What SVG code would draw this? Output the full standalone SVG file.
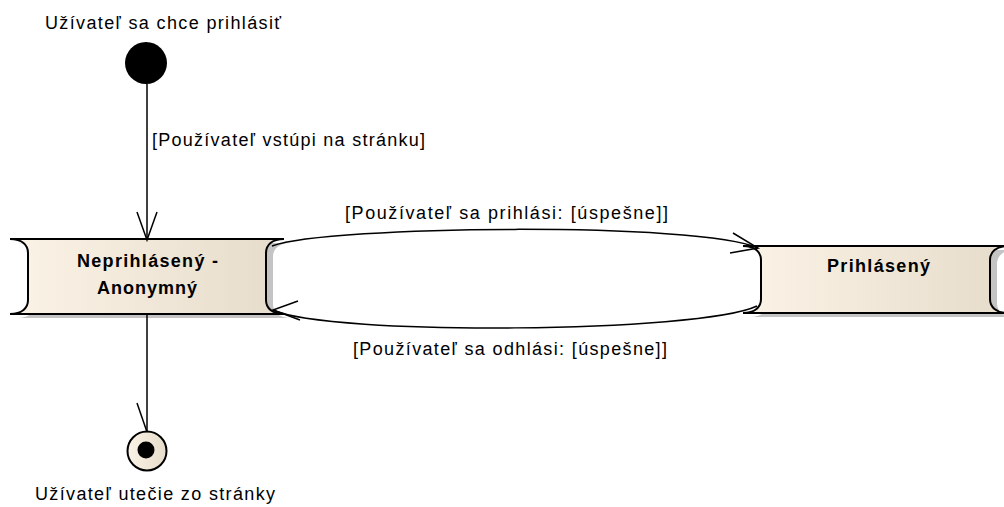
<svg xmlns="http://www.w3.org/2000/svg" width="1004" height="507" viewBox="0 0 1004 507">
  <defs>
    <linearGradient id="stateFill" x1="0" y1="0" x2="1" y2="0">
      <stop offset="0" stop-color="#fbf3e6"/>
      <stop offset="1" stop-color="#e6dccb"/>
    </linearGradient>
    <style>
      .shadow { fill: #c4c4c4; }
      .state { fill: url(#stateFill); stroke: #000; stroke-width: 2; }
      .name { font-family: "Liberation Sans", Arial, sans-serif; font-size: 18px; font-weight: bold; fill: #000; }
      .lbl { font-family: "Liberation Sans", Arial, sans-serif; font-size: 18px; fill: #000; }
      .edge { fill: none; stroke: #000; stroke-width: 1.5; }
    </style>
  </defs>
  <rect width="1004" height="507" fill="#fff"/>

  <!-- initial pseudo-state -->
  <g id="initial">
    <circle cx="146" cy="63" r="21" fill="#000"/>
    <text class="lbl" x="45" y="29" textLength="236" lengthAdjust="spacing">Užívateľ sa chce prihlásiť</text>
  </g>

  <!-- state: not logged in -->
  <g id="anonymous">
    <path class="shadow" transform="translate(7,4)" d="M10,239 H284 C272,239 266,245 266,253 V300 C266,308 272,314 284,314 H10 C22,314 28,308 28,300 V253 C28,245 22,239 10,239 Z"/>
    <path class="state" d="M10,239 H284 C272,239 266,245 266,253 V300 C266,308 272,314 284,314 H10 C22,314 28,308 28,300 V253 C28,245 22,239 10,239 Z"/>
    <text class="name" x="77" y="267" textLength="141" lengthAdjust="spacing">Neprihlásený -</text>
    <text class="name" x="97" y="294" textLength="100" lengthAdjust="spacing">Anonymný</text>
  </g>

  <!-- state: logged in -->
  <g id="loggedIn">
    <path class="shadow" transform="translate(7,4)" d="M743,246 H1008 C996,246 990,252 990,260 V299 C990,307 996,313 1008,313 H743 C755,313 761,307 761,299 V260 C761,252 755,246 743,246 Z"/>
    <path class="state" d="M743,246 H1008 C996,246 990,252 990,260 V299 C990,307 996,313 1008,313 H743 C755,313 761,307 761,299 V260 C761,252 755,246 743,246 Z"/>
    <text class="name" x="827" y="272" textLength="103" lengthAdjust="spacing">Prihlásený</text>
  </g>

  <!-- final pseudo-state -->
  <g id="final">
    <circle cx="147" cy="451" r="19.5" fill="url(#stateFill)" stroke="#000" stroke-width="2"/>
    <circle cx="146" cy="450" r="8.5" fill="#000"/>
    <text class="lbl" x="35" y="500" textLength="240" lengthAdjust="spacing">Užívateľ utečie zo stránky</text>
  </g>

  <!-- transitions -->
  <g id="connectors">
    <path class="edge" d="M147,84 V240"/>
    <path class="edge" d="M137,212 L147,240 L157,212"/>
    <text class="lbl" x="152" y="146" textLength="273" lengthAdjust="spacing">[Používateľ vstúpi na stránku]</text>

    <path class="edge" d="M272,246 C330,225 700,222 758,248"/>
    <path class="edge" d="M733,233 L758,248 L730,253"/>
    <text class="lbl" x="345" y="219" textLength="323" lengthAdjust="spacing">[Používateľ sa prihlási: [úspešne]]</text>

    <path class="edge" d="M757,306 C700,333 330,336 273,310"/>
    <path class="edge" d="M298,301 L273,310 L300,320"/>
    <text class="lbl" x="353" y="355" textLength="314" lengthAdjust="spacing">[Používateľ sa odhlási: [úspešne]]</text>

    <path class="edge" d="M147,314 V432"/>
    <path class="edge" d="M137,403 L147,432"/>
  </g>
</svg>
